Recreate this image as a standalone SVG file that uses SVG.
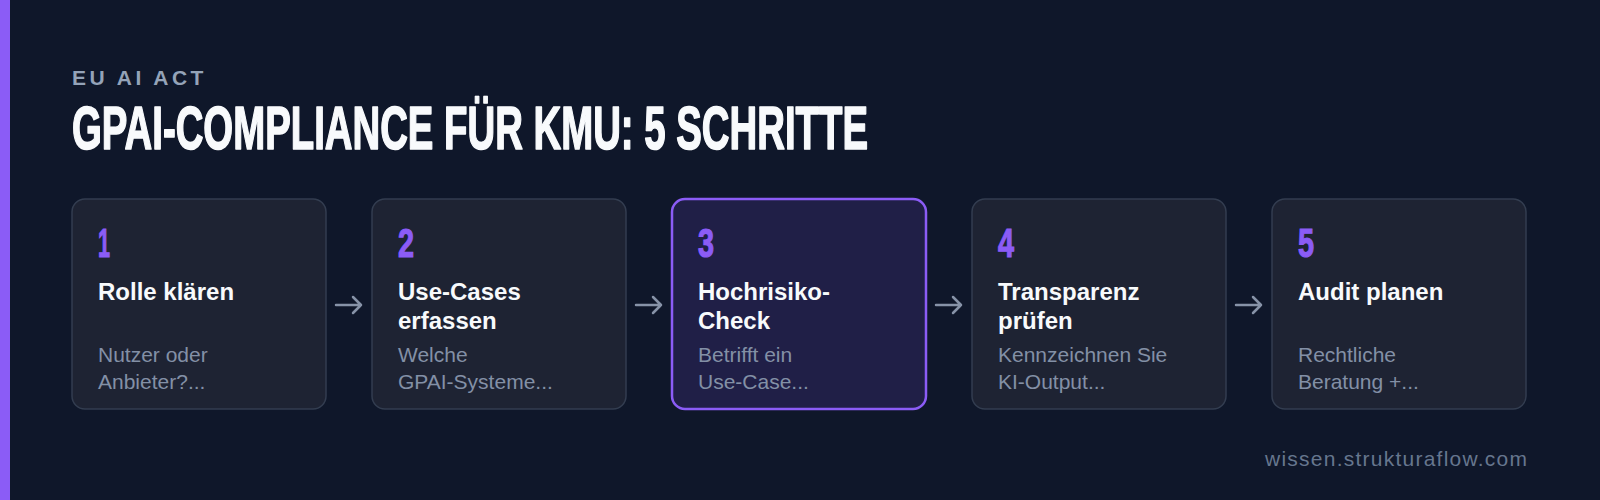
<svg xmlns="http://www.w3.org/2000/svg" width="1600" height="500" viewBox="0 0 1600 500">
  <defs>
    <style>
      .bg { fill: #0f172a; }
      .card { fill: #1e2333; stroke: #333d50; stroke-width: 1.5; }
      .card-hl { fill: #201f47; stroke: #8b5cf6; stroke-width: 2.5; }
      .num { font-family: "Liberation Sans", Arial, sans-serif; font-weight: 700; font-size: 40px; fill: #8b5cf6; stroke: #8b5cf6; stroke-width: 1.2; }
      .ttl { font-family: "Liberation Sans", Arial, sans-serif; font-weight: 700; font-size: 24px; fill: #f8fafc; }
      .dsc { font-family: "Liberation Sans", Arial, sans-serif; font-size: 21px; fill: #8390a6; }
      .conn { stroke: #8793a8; stroke-width: 2.5; fill: none; stroke-linecap: round; stroke-linejoin: round; }
    </style>
  </defs>
  <rect class="bg" x="0" y="0" width="1600" height="500"/>
  <rect x="0" y="0" width="10" height="500" fill="#8b5cf6"/>

  <g id="header">
    <text x="72" y="85" font-family="Liberation Sans, Arial, sans-serif" font-weight="700" font-size="21" fill="#94a3b8" letter-spacing="3.5">EU AI ACT</text>
    <text x="72" y="149" font-family="Liberation Sans, Arial, sans-serif" font-weight="700" font-size="61" fill="#f8fafc" stroke="#f8fafc" stroke-width="1.6" stroke-linejoin="round" textLength="796" lengthAdjust="spacingAndGlyphs">GPAI-COMPLIANCE FÜR KMU: 5 SCHRITTE</text>
  </g>

  <g id="connectors">
    <path class="conn" d="M336 305 H361 M353 297 L361 305 L353 313"/>
    <path class="conn" d="M636 305 H661 M653 297 L661 305 L653 313"/>
    <path class="conn" d="M936 305 H961 M953 297 L961 305 L953 313"/>
    <path class="conn" d="M1236 305 H1261 M1253 297 L1261 305 L1253 313"/>
  </g>

  <g id="step1">
    <rect class="card" x="72" y="199" width="254" height="210" rx="13"/>
    <text class="num" x="98" y="257" textLength="12" lengthAdjust="spacingAndGlyphs">1</text>
    <text class="ttl" x="98" y="300">Rolle klären</text>
    <text class="dsc" x="98" y="362">Nutzer oder</text>
    <text class="dsc" x="98" y="389">Anbieter?...</text>
  </g>

  <g id="step2">
    <rect class="card" x="372" y="199" width="254" height="210" rx="13"/>
    <text class="num" x="398" y="257" textLength="16" lengthAdjust="spacingAndGlyphs">2</text>
    <text class="ttl" x="398" y="300">Use-Cases</text>
    <text class="ttl" x="398" y="329">erfassen</text>
    <text class="dsc" x="398" y="362">Welche</text>
    <text class="dsc" x="398" y="389">GPAI-Systeme...</text>
  </g>

  <g id="step3">
    <rect class="card-hl" x="672" y="199" width="254" height="210" rx="13"/>
    <text class="num" x="698" y="257" textLength="16" lengthAdjust="spacingAndGlyphs">3</text>
    <text class="ttl" x="698" y="300">Hochrisiko-</text>
    <text class="ttl" x="698" y="329">Check</text>
    <text class="dsc" x="698" y="362">Betrifft ein</text>
    <text class="dsc" x="698" y="389">Use-Case...</text>
  </g>

  <g id="step4">
    <rect class="card" x="972" y="199" width="254" height="210" rx="13"/>
    <text class="num" x="998" y="257" textLength="16" lengthAdjust="spacingAndGlyphs">4</text>
    <text class="ttl" x="998" y="300">Transparenz</text>
    <text class="ttl" x="998" y="329">prüfen</text>
    <text class="dsc" x="998" y="362">Kennzeichnen Sie</text>
    <text class="dsc" x="998" y="389">KI-Output...</text>
  </g>

  <g id="step5">
    <rect class="card" x="1272" y="199" width="254" height="210" rx="13"/>
    <text class="num" x="1298" y="257" textLength="16" lengthAdjust="spacingAndGlyphs">5</text>
    <text class="ttl" x="1298" y="300">Audit planen</text>
    <text class="dsc" x="1298" y="362">Rechtliche</text>
    <text class="dsc" x="1298" y="389">Beratung +...</text>
  </g>

  <g id="footer">
    <text x="1527" y="466" text-anchor="end" font-family="Liberation Sans, Arial, sans-serif" font-size="21" fill="#66768e" textLength="262" lengthAdjust="spacing">wissen.strukturaflow.com</text>
  </g>
</svg>
